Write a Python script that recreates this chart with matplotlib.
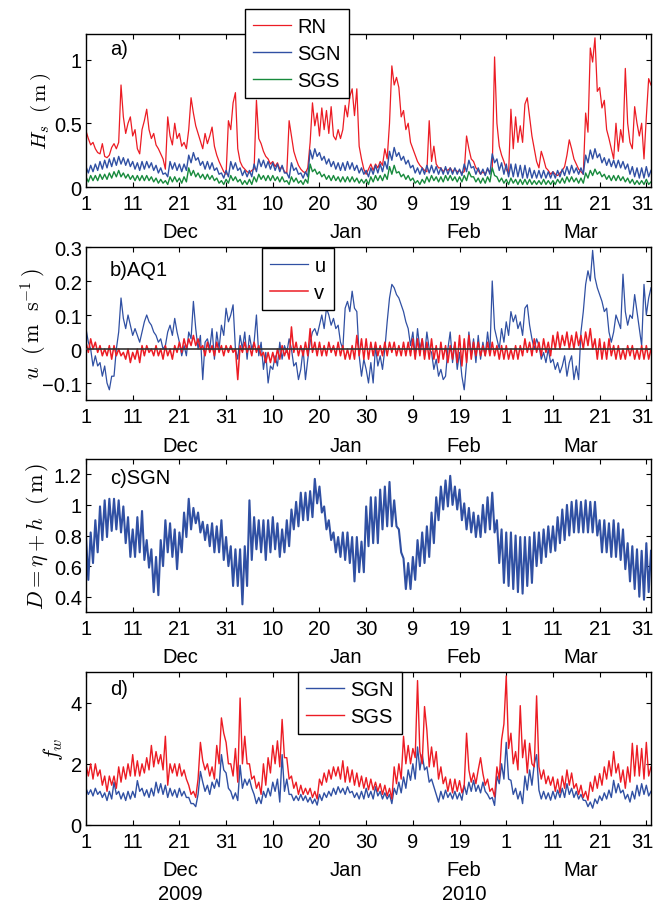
import numpy as np
import matplotlib.pyplot as plt
from matplotlib.transforms import offset_copy

plt.rcParams['font.family'] = ['Liberation Sans', 'DejaVu Sans']
plt.rcParams['mathtext.fontset'] = 'cm'
plt.rcParams['font.size'] = 14.5

# values read every 12 h from 1 Dec 2009 to 1 Apr 2010
hs_rn = [
    0.44,0.38,0.33,0.35,0.30,0.27,0.26,0.34,0.24,0.23,0.25,0.31,0.34,0.30,0.35,0.80,0.55,0.42,0.50,0.55,
    0.40,0.45,0.30,0.26,0.45,0.52,0.61,0.45,0.38,0.42,0.33,0.30,0.26,0.22,0.14,0.55,0.40,0.33,0.50,0.38,
    0.42,0.32,0.35,0.30,0.45,0.70,0.58,0.48,0.42,0.36,0.30,0.42,0.34,0.40,0.47,0.32,0.25,0.20,0.16,0.12,
    0.10,0.52,0.45,0.66,0.74,0.30,0.20,0.16,0.14,0.12,0.11,0.13,0.14,0.68,0.38,0.34,0.28,0.24,0.22,0.18,
    0.20,0.16,0.19,0.14,0.16,0.12,0.11,0.52,0.40,0.28,0.22,0.17,0.14,0.12,0.11,0.15,0.35,0.66,0.48,0.58,
    0.40,0.62,0.45,0.60,0.42,0.63,0.40,0.37,0.45,0.38,0.45,0.64,0.55,0.71,0.77,0.56,0.77,0.32,0.22,0.14,
    0.10,0.14,0.18,0.13,0.18,0.15,0.20,0.17,0.30,0.22,0.50,0.95,0.80,0.86,0.78,0.55,0.60,0.45,0.50,0.35,
    0.30,0.25,0.20,0.17,0.15,0.13,0.12,0.52,0.20,0.32,0.18,0.15,0.15,0.12,0.14,0.13,0.15,0.12,0.14,0.12,
    0.13,0.11,0.12,0.40,0.30,0.22,0.20,0.15,0.13,0.10,0.12,0.10,0.14,0.12,0.14,1.02,0.50,0.32,0.25,0.20,
    0.14,0.10,0.61,0.30,0.55,0.35,0.48,0.35,0.65,0.70,0.55,0.40,0.30,0.20,0.15,0.28,0.22,0.15,0.13,0.10,
    0.12,0.10,0.09,0.11,0.13,0.16,0.25,0.37,0.30,0.22,0.18,0.14,0.12,0.10,0.58,0.43,1.09,0.98,1.17,0.75,
    0.78,0.62,0.68,0.45,0.38,0.30,0.22,0.50,0.28,0.45,0.35,0.93,0.50,0.35,0.30,0.63,0.50,0.40,0.50,0.22,
    0.55,0.85,0.80]
hs_sgn = [
    0.16,0.11,0.17,0.12,0.18,0.13,0.20,0.14,0.21,0.15,0.22,0.16,0.23,0.17,0.24,0.18,0.23,0.17,0.22,0.16,
    0.20,0.14,0.19,0.13,0.20,0.14,0.20,0.15,0.19,0.13,0.17,0.11,0.15,0.10,0.11,0.08,0.20,0.14,0.19,0.13,
    0.18,0.12,0.18,0.13,0.25,0.19,0.27,0.21,0.23,0.17,0.20,0.14,0.20,0.14,0.19,0.13,0.15,0.10,0.11,0.07,
    0.13,0.08,0.20,0.14,0.19,0.13,0.15,0.09,0.13,0.08,0.13,0.08,0.18,0.12,0.22,0.16,0.21,0.15,0.20,0.14,
    0.19,0.13,0.18,0.12,0.17,0.11,0.11,0.07,0.19,0.13,0.15,0.10,0.11,0.07,0.12,0.08,0.29,0.22,0.30,0.24,
    0.27,0.21,0.24,0.18,0.22,0.16,0.20,0.14,0.19,0.13,0.19,0.13,0.20,0.14,0.19,0.13,0.17,0.11,0.15,0.10,
    0.13,0.08,0.15,0.10,0.17,0.11,0.18,0.12,0.20,0.14,0.28,0.21,0.31,0.24,0.27,0.21,0.24,0.18,0.21,0.15,
    0.17,0.11,0.15,0.10,0.15,0.10,0.17,0.11,0.17,0.11,0.16,0.10,0.15,0.10,0.16,0.10,0.15,0.10,0.15,0.10,
    0.14,0.09,0.18,0.12,0.21,0.15,0.16,0.10,0.15,0.10,0.14,0.09,0.15,0.10,0.26,0.19,0.22,0.13,0.19,0.10,
    0.18,0.08,0.18,0.08,0.18,0.08,0.17,0.07,0.17,0.07,0.15,0.07,0.13,0.07,0.13,0.07,0.13,0.07,0.12,0.07,
    0.12,0.07,0.13,0.08,0.14,0.09,0.16,0.10,0.17,0.11,0.15,0.10,0.15,0.10,0.25,0.19,0.29,0.22,0.30,0.23,
    0.26,0.19,0.23,0.17,0.22,0.16,0.21,0.15,0.21,0.15,0.20,0.14,0.18,0.10,0.16,0.08,0.15,0.07,0.15,0.07,
    0.16,0.08,0.13]
hs_sgs = [
    0.08,0.04,0.09,0.05,0.09,0.05,0.10,0.06,0.10,0.06,0.11,0.07,0.12,0.08,0.13,0.08,0.11,0.07,0.10,0.06,
    0.09,0.05,0.09,0.05,0.09,0.05,0.09,0.05,0.08,0.04,0.07,0.03,0.06,0.03,0.05,0.02,0.08,0.04,0.08,0.04,
    0.07,0.03,0.08,0.04,0.15,0.09,0.13,0.08,0.11,0.07,0.10,0.06,0.10,0.06,0.09,0.05,0.07,0.03,0.05,0.02,
    0.06,0.03,0.09,0.05,0.08,0.04,0.06,0.02,0.05,0.02,0.06,0.02,0.08,0.04,0.10,0.06,0.09,0.05,0.09,0.05,
    0.09,0.05,0.08,0.04,0.08,0.04,0.05,0.02,0.08,0.04,0.07,0.03,0.05,0.02,0.06,0.03,0.18,0.12,0.14,0.10,
    0.12,0.08,0.10,0.06,0.09,0.05,0.09,0.05,0.08,0.04,0.08,0.04,0.08,0.04,0.08,0.04,0.07,0.03,0.06,0.03,
    0.06,0.02,0.08,0.04,0.09,0.05,0.09,0.05,0.10,0.06,0.16,0.10,0.17,0.11,0.12,0.08,0.10,0.06,0.09,0.05,
    0.07,0.03,0.05,0.02,0.06,0.03,0.08,0.04,0.09,0.05,0.08,0.04,0.08,0.04,0.09,0.05,0.09,0.05,0.08,0.04,
    0.08,0.04,0.09,0.05,0.12,0.08,0.08,0.04,0.07,0.03,0.07,0.03,0.08,0.04,0.15,0.09,0.08,0.04,0.07,0.03,
    0.06,0.02,0.07,0.03,0.06,0.02,0.06,0.02,0.06,0.02,0.06,0.02,0.05,0.02,0.05,0.02,0.06,0.02,0.05,0.02,
    0.05,0.02,0.06,0.03,0.07,0.03,0.08,0.04,0.08,0.04,0.07,0.03,0.07,0.03,0.11,0.07,0.13,0.09,0.14,0.10,
    0.12,0.08,0.10,0.06,0.09,0.05,0.09,0.05,0.09,0.05,0.08,0.04,0.07,0.03,0.06,0.02,0.05,0.02,0.05,0.02,
    0.06,0.02,0.04]
aq1_u = [
    0.06,0.02,0.00,-0.05,-0.02,-0.05,-0.04,-0.08,-0.05,-0.10,-0.12,-0.08,-0.08,0.00,0.05,0.15,0.09,0.06,0.10,0.07,
    0.04,0.06,0.04,0.02,0.05,0.08,0.10,0.08,0.07,0.05,0.04,0.02,0.03,0.00,0.01,0.05,0.07,0.04,0.09,0.05,
    0.02,-0.02,0.01,-0.02,0.05,0.03,0.14,0.06,0.00,0.04,-0.09,0.02,0.03,0.00,0.06,-0.03,0.05,0.00,0.07,0.04,
    0.12,0.08,0.10,0.13,0.00,-0.03,0.04,0.00,0.05,-0.03,0.04,0.00,0.02,0.10,-0.02,0.02,-0.06,-0.01,-0.10,-0.05,
    -0.06,-0.02,-0.05,0.02,-0.03,0.01,-0.01,0.03,0.00,-0.05,-0.04,-0.09,-0.06,0.00,-0.09,-0.03,0.02,0.05,0.06,0.04,
    0.07,0.10,0.06,0.12,0.10,0.07,0.09,0.06,0.07,0.02,0.00,0.12,0.14,0.11,0.17,0.12,0.11,-0.02,-0.08,-0.03,
    -0.06,-0.10,-0.04,-0.10,0.01,-0.05,-0.02,-0.06,0.00,0.08,0.15,0.19,0.18,0.16,0.15,0.13,0.11,0.08,0.06,0.01,
    0.05,-0.02,0.06,0.00,0.03,-0.02,0.05,0.00,-0.01,-0.06,-0.03,-0.08,-0.06,-0.09,-0.08,0.00,0.05,-0.04,0.02,-0.06,
    -0.01,-0.08,-0.12,-0.04,0.05,-0.02,0.03,-0.04,0.04,-0.03,0.02,-0.02,0.05,-0.01,0.20,0.06,0.03,0.00,0.06,0.02,
    0.08,0.04,0.11,0.08,0.10,0.06,0.08,0.04,0.12,0.13,0.07,0.03,0.00,0.03,0.01,-0.03,-0.01,-0.04,0.00,-0.04,
    -0.03,-0.06,-0.04,-0.07,-0.05,-0.02,-0.08,-0.04,-0.02,-0.09,-0.05,-0.09,0.05,0.11,0.19,0.23,0.20,0.29,0.21,0.18,
    0.16,0.14,0.11,0.12,0.05,0.02,0.05,0.10,0.08,0.06,0.22,0.11,0.07,0.10,0.09,0.16,0.11,0.06,0.01,0.19,
    0.10,0.15,0.18]
aq1_v = [
    0.02,-0.01,0.03,0.00,0.02,-0.01,0.01,-0.02,0.00,-0.02,0.01,-0.03,0.01,-0.02,0.00,-0.02,-0.01,-0.03,0.00,-0.04,
    -0.01,-0.03,0.00,-0.04,0.01,-0.02,0.01,-0.01,0.00,-0.02,0.01,-0.02,0.00,-0.03,0.01,-0.02,0.00,-0.03,0.01,-0.01,
    0.02,-0.01,0.03,0.00,0.03,0.01,0.04,0.01,0.03,0.00,0.01,-0.02,0.02,-0.01,0.01,-0.02,0.02,-0.01,0.01,-0.02,
    0.01,-0.01,0.01,-0.01,0.00,-0.09,0.01,-0.01,0.02,-0.01,0.01,-0.02,0.02,-0.01,0.01,-0.02,-0.01,-0.04,-0.01,-0.04,
    -0.01,-0.04,0.00,-0.03,0.01,-0.02,0.00,-0.03,0.065,-0.01,0.02,-0.02,0.01,-0.02,0.02,-0.02,0.06,-0.01,0.02,-0.02,
    0.02,-0.02,0.01,-0.02,0.02,-0.01,0.01,-0.02,0.02,-0.02,0.01,-0.03,0.00,-0.03,0.01,-0.03,0.04,-0.02,0.03,-0.03,
    0.03,-0.03,0.02,-0.02,0.02,-0.02,0.01,-0.02,0.02,-0.02,0.02,-0.01,0.02,-0.02,0.01,-0.02,0.02,-0.02,0.02,-0.02,
    0.03,-0.03,0.03,-0.02,0.03,-0.03,0.02,-0.03,0.03,-0.03,0.01,-0.04,0.02,-0.03,0.01,-0.04,0.01,-0.03,0.02,-0.04,
    0.04,-0.05,0.03,-0.04,0.04,-0.03,0.02,-0.02,0.02,-0.02,0.01,-0.02,0.02,-0.02,0.02,-0.02,0.01,-0.03,0.01,-0.03,
    0.01,-0.03,0.00,-0.03,0.01,-0.03,0.01,-0.02,0.03,-0.01,0.02,-0.02,0.03,-0.01,0.02,-0.02,0.03,-0.01,0.02,-0.02,
    0.04,0.00,0.05,0.00,0.04,0.01,0.05,0.00,0.04,0.00,0.05,0.01,0.04,0.00,0.05,0.01,0.06,0.00,0.03,-0.03,
    0.03,-0.03,0.02,-0.03,0.03,-0.02,0.01,-0.03,0.01,-0.03,0.00,-0.03,0.01,-0.02,0.01,-0.03,0.00,-0.03,0.01,-0.03,
    0.01,-0.03,0.00]
depth_sgn = [
    0.79,0.51,0.82,0.62,0.90,0.69,0.99,0.77,1.03,0.79,1.04,0.83,1.04,0.84,1.03,0.82,0.99,0.75,0.92,0.66,
    0.84,0.66,0.92,0.69,0.96,0.64,0.77,0.59,0.71,0.43,0.66,0.41,0.77,0.60,0.90,0.69,0.88,0.66,0.84,0.58,
    0.82,0.69,0.95,0.79,1.04,0.84,0.98,0.88,0.95,0.82,0.89,0.77,0.87,0.73,0.88,0.69,0.86,0.69,0.90,0.64,
    0.79,0.60,0.73,0.47,0.71,0.47,0.71,0.35,0.73,0.47,1.03,0.64,0.92,0.71,0.90,0.69,0.90,0.64,0.90,0.69,
    0.92,0.71,0.88,0.66,0.84,0.69,0.90,0.73,0.97,0.84,1.02,0.86,1.08,0.90,1.08,0.90,1.09,0.92,1.17,1.01,
    1.12,0.95,0.99,0.84,0.90,0.77,0.82,0.69,0.79,0.66,0.82,0.64,0.82,0.62,0.79,0.50,0.79,0.56,0.76,0.56,
    0.99,0.73,1.05,0.75,1.05,0.75,1.10,0.84,1.12,0.86,1.15,0.86,1.03,0.86,0.84,0.69,0.65,0.45,0.62,0.45,
    0.66,0.51,0.77,0.60,0.82,0.62,0.86,0.66,0.95,0.75,1.05,0.90,1.12,0.97,1.16,0.99,1.19,1.00,1.12,0.97,
    1.10,0.90,1.01,0.84,0.98,0.82,0.95,0.79,0.93,0.79,1.00,0.82,1.05,0.84,1.08,0.82,0.90,0.62,0.84,0.49,
    0.82,0.47,0.82,0.45,0.80,0.43,0.79,0.42,0.79,0.47,0.79,0.49,0.82,0.60,0.82,0.62,0.84,0.66,0.86,0.69,
    0.86,0.70,0.92,0.75,0.97,0.77,1.00,0.80,1.02,0.82,1.03,0.82,1.02,0.82,1.03,0.82,1.02,0.82,1.02,0.80,
    0.90,0.69,0.90,0.69,0.88,0.66,0.90,0.66,0.88,0.64,0.84,0.58,0.75,0.50,0.73,0.45,0.71,0.40,0.70,0.38,
    0.75,0.43,0.70]
fw_sgn = [
    1.2,1.0,1.15,0.95,1.2,1.0,1.1,0.9,1.05,0.8,1.1,0.85,1.4,1.0,1.1,0.85,1.05,0.8,1.1,0.85,
    1.1,0.9,1.45,1.1,1.2,0.95,1.15,0.9,1.2,0.95,1.4,1.05,1.35,1.0,1.3,0.9,1.2,0.95,1.15,0.9,
    1.2,0.95,1.1,0.9,0.9,0.7,0.7,0.6,1.0,1.75,1.4,1.1,1.3,1.0,1.4,1.2,1.5,1.25,2.3,1.8,
    1.7,1.2,1.1,0.85,1.05,0.8,1.95,1.2,1.5,1.3,1.5,1.2,1.0,0.7,0.9,0.7,1.1,0.9,1.2,0.95,
    1.4,1.1,1.5,0.75,2.3,1.1,1.5,1.0,1.0,0.8,0.95,0.8,1.0,0.8,0.95,0.75,0.9,0.7,0.85,0.65,
    1.0,0.8,1.05,0.9,1.1,0.95,1.2,1.0,1.25,1.05,1.2,1.0,1.25,1.05,1.1,0.9,1.05,0.85,1.1,0.85,
    1.2,0.9,1.1,0.85,1.25,0.95,1.1,0.85,1.05,0.85,1.0,0.7,1.2,1.0,1.4,1.05,1.57,1.2,1.8,1.46,
    2.0,1.5,2.55,1.8,2.3,1.8,1.9,1.4,1.5,1.25,1.0,0.75,1.1,0.85,1.14,0.9,1.05,0.85,1.1,0.85,
    1.05,0.81,1.3,1.0,1.4,1.1,1.46,1.1,1.3,1.05,1.4,1.1,1.0,0.85,0.9,0.64,1.6,1.35,2.0,1.5,
    2.7,1.5,1.46,1.0,1.2,0.85,1.1,0.7,1.6,1.14,1.8,1.3,2.0,2.3,1.14,0.85,1.1,0.85,1.05,0.81,
    1.1,0.85,1.14,0.9,1.2,0.9,1.35,1.0,1.2,0.9,1.1,0.85,1.0,0.81,0.8,0.6,0.75,0.55,0.85,0.7,
    0.95,0.8,1.05,0.85,1.14,0.9,1.46,1.05,1.35,1.05,1.14,0.85,1.0,0.75,1.1,0.85,1.3,0.95,1.35,1.0,
    1.3,0.95,1.1]
fw_sgs = [
    2.0,1.6,2.0,1.5,2.0,1.6,1.8,1.3,1.6,1.1,1.6,1.3,1.6,1.2,1.9,1.4,1.9,1.5,2.0,1.6,
    2.3,1.6,2.1,1.6,2.0,1.7,2.2,1.8,2.6,1.9,2.4,2.0,2.3,1.8,2.9,1.3,2.0,1.7,2.0,1.6,
    2.0,1.6,1.8,1.5,1.3,1.0,1.1,0.9,1.5,2.7,2.1,1.8,2.0,1.6,1.9,1.5,2.6,2.0,3.5,3.0,
    2.7,2.0,2.0,1.6,2.5,1.4,4.15,2.0,2.9,2.0,2.0,1.5,1.6,1.2,1.4,1.0,2.0,1.3,2.2,1.7,
    2.6,2.0,2.75,1.9,3.45,2.2,2.2,1.5,1.6,1.2,1.4,1.0,1.3,1.0,1.2,1.0,1.2,0.9,1.1,0.85,
    1.5,1.3,1.7,1.4,1.8,1.5,1.9,1.6,1.9,1.5,2.1,1.4,1.9,1.4,1.8,1.3,1.7,1.25,1.6,1.2,
    1.55,1.15,1.5,1.15,1.4,1.1,1.35,1.0,1.3,0.95,1.2,0.85,1.9,1.35,2.0,1.5,2.9,2.0,2.6,2.0,
    2.5,2.2,4.72,2.4,2.0,3.87,3.1,1.9,2.55,1.9,2.4,1.5,1.9,1.35,1.57,1.1,1.5,1.05,1.5,1.1,
    1.45,1.05,1.3,3.0,1.8,1.4,1.7,1.35,1.8,2.2,1.68,1.3,1.5,1.1,1.2,0.92,1.9,1.5,2.78,3.3,
    4.87,2.5,3.0,2.0,2.4,1.8,3.9,2.2,2.78,1.7,2.67,2.0,1.9,4.22,1.9,1.5,1.8,1.35,1.6,1.3,
    1.57,1.1,1.5,1.05,1.6,1.2,1.8,1.3,1.7,1.2,1.35,1.0,1.3,0.9,1.1,0.81,1.4,1.1,1.6,1.2,
    1.68,1.3,1.9,1.5,2.1,1.6,2.4,1.7,2.0,1.4,1.8,1.2,1.9,1.4,2.67,1.6,2.6,1.6,2.5,1.5,
    2.7,1.6,1.9]

tick_days = [0, 10, 20, 30, 40, 50, 60, 70, 80, 90, 100, 110, 120]
tick_labels = ['1', '11', '21', '31', '10', '20', '30', '9', '19', '1', '11', '21', '31']
months = ['Dec', 'Jan', 'Feb', 'Mar']
month_days = [20.2, 55.6, 80.9, 106.0]
years = ['2009', '2010']
year_days = [20.2, 80.9]

t = np.arange(len(hs_rn)) * 0.5   # days since 1 Dec 2009

red = '#ec1c24'
blue = '#3050a3'
green = '#178a3c'

W, H = 655, 904
fig = plt.figure(figsize=(W / 100, H / 100), dpi=100)


def panel(top):
    ax = fig.add_axes([86 / W, 1 - (top + 153) / H, 565 / W, 153 / H])
    ax.set_xlim(0, 121)
    ax.set_xticks(tick_days)
    # last label is drawn separately, nudged left so it stays inside the figure
    ax.set_xticklabels(tick_labels[:-1] + [''])
    ax.text(tick_days[-1], 0, tick_labels[-1],
            transform=offset_copy(ax.get_xaxis_transform(), fig=fig,
                                  x=-4, y=-7, units='dots'),
            ha='center', va='top')
    ax.tick_params(direction='in', top=True, right=True, length=3.5, width=0.8)
    ax.tick_params(axis='x', pad=5)
    ax.tick_params(axis='y', pad=3)
    for s in ax.spines.values():
        s.set_linewidth(1.0)
    for m, d in zip(months, month_days):
        ax.text(d, -45 / 153, m, transform=ax.get_xaxis_transform(),
                ha='center', va='center')
    return ax


def legend(ax, x, y):
    leg = ax.legend(loc='upper left', bbox_to_anchor=(x / W, 1 - y / H),
                    bbox_transform=fig.transFigure, fancybox=False, framealpha=1,
                    edgecolor='black', borderaxespad=0, borderpad=0.4,
                    labelspacing=0.4, handlelength=1.9, handletextpad=0.3,
                    fontsize=14.5)
    leg.get_frame().set_linewidth(1.0)
    leg.set_zorder(5)


# a) significant wave height
ax1 = panel(35)
ax1.plot(t, hs_rn, color=red, lw=0.9, label='RN')
ax1.plot(t, hs_sgn, color=blue, lw=1.0, label='SGN')
ax1.plot(t, hs_sgs, color=green, lw=1.0, label='SGS')
ax1.set_ylim(0, 1.2)
ax1.set_yticks([0, 0.5, 1])
ax1.set_yticklabels(['0', '0.5', '1'])
ax1.text(0.042, 0.902, 'a)', transform=ax1.transAxes, va='center')
ax1.text(-0.08, 0.5, r'$H_s\ \ (\,\mathrm{m}\,)$', transform=ax1.transAxes,
         rotation=90, ha='center', va='center', fontsize=15)
legend(ax1, 245, 10)

# b) AQ1 currents
ax2 = panel(248)
ax2.plot(t, aq1_u, color=blue, lw=0.9, label='u')
ax2.plot(t, aq1_v, color=red, lw=1.1, label='v')
ax2.axhline(0, color='#333333', lw=1.2, zorder=3)
ax2.set_ylim(-0.15, 0.3)
ax2.set_yticks([-0.1, 0, 0.1, 0.2, 0.3])
ax2.set_yticklabels(['\u22120.1', '0', '0.1', '0.2', '0.3'])
ax2.text(0.042, 0.856, 'b)AQ1', transform=ax2.transAxes, va='center')
ax2.text(-0.092, 0.5, r'$u\ \ (\,\mathrm{m\ \ s^{-1}}\,)$', transform=ax2.transAxes,
         rotation=90, ha='center', va='center', fontsize=16)
legend(ax2, 262, 249)

# c) water depth at SGN
ax3 = panel(460)
ax3.plot(t, depth_sgn, color=blue, lw=1.5)
ax3.set_ylim(0.3, 1.3)
ax3.set_yticks([0.4, 0.6, 0.8, 1.0, 1.2])
ax3.set_yticklabels(['0.4', '0.6', '0.8', '1', '1.2'])
ax3.text(0.042, 0.882, 'c)SGN', transform=ax3.transAxes, va='center')
ax3.text(-0.085, 0.5, r'$D=\eta+h\ \ (\,\mathrm{m}\,)$', transform=ax3.transAxes,
         rotation=90, ha='center', va='center', fontsize=16)

# d) wave friction factor
ax4 = panel(673)
ax4.plot(t, fw_sgn, color=blue, lw=1.0, label='SGN')
ax4.plot(t, fw_sgs, color=red, lw=1.0, label='SGS')
ax4.set_ylim(0, 5)
ax4.set_yticks([0, 2, 4])
ax4.set_yticklabels(['0', '2', '4'])
ax4.text(0.042, 0.889, 'd)', transform=ax4.transAxes, va='center')
ax4.text(-0.058, 0.5, r'$f_w$', transform=ax4.transAxes,
         rotation=90, ha='center', va='center', fontsize=16)
for yr, d in zip(years, year_days):
    ax4.text(d, -69 / 153, yr, transform=ax4.get_xaxis_transform(),
             ha='center', va='center')
legend(ax4, 298, 673)

fig.savefig('out.png', dpi=100)
